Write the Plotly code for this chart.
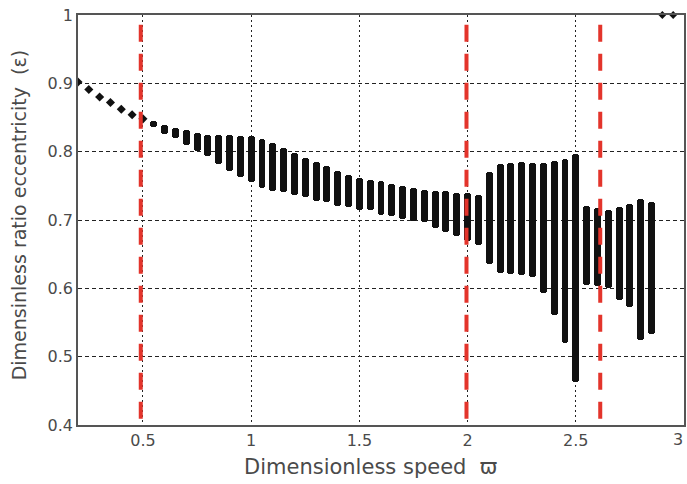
import plotly.graph_objects as go

# Dimensionless speed (columns of the bifurcation-type plot)
speed = [0.20, 0.25, 0.30, 0.35, 0.40, 0.45, 0.50, 0.55, 0.60, 0.65,
         0.70, 0.75, 0.80, 0.85, 0.90, 0.95, 1.00, 1.05, 1.10, 1.15,
         1.20, 1.25, 1.30, 1.35, 1.40, 1.45, 1.50, 1.55, 1.60, 1.65,
         1.70, 1.75, 1.80, 1.85, 1.90, 1.95, 2.00, 2.05, 2.10, 2.15,
         2.20, 2.25, 2.30, 2.35, 2.40, 2.45, 2.50, 2.55, 2.60, 2.65,
         2.70, 2.75, 2.80, 2.85]
# upper and lower eccentricity extent of each column
ecc_high = [0.902, 0.891, 0.880, 0.872, 0.862, 0.854, 0.848, 0.845, 0.839, 0.834,
            0.831, 0.827, 0.824, 0.824, 0.824, 0.823, 0.823, 0.819, 0.812, 0.805,
            0.798, 0.791, 0.785, 0.779, 0.772, 0.766, 0.762, 0.759, 0.757, 0.753,
            0.750, 0.747, 0.744, 0.743, 0.742, 0.739, 0.739, 0.737, 0.770, 0.782,
            0.784, 0.785, 0.784, 0.784, 0.787, 0.790, 0.796, 0.720, 0.718, 0.715,
            0.719, 0.724, 0.731, 0.727]
ecc_low = [0.902, 0.891, 0.880, 0.872, 0.862, 0.854, 0.848, 0.836, 0.826, 0.820,
           0.810, 0.801, 0.793, 0.782, 0.772, 0.763, 0.755, 0.747, 0.743, 0.741,
           0.736, 0.733, 0.728, 0.726, 0.721, 0.719, 0.715, 0.714, 0.707, 0.706,
           0.702, 0.698, 0.697, 0.689, 0.682, 0.676, 0.670, 0.663, 0.635, 0.622,
           0.621, 0.620, 0.617, 0.593, 0.561, 0.520, 0.463, 0.605, 0.604, 0.600,
           0.583, 0.573, 0.524, 0.533]
# points escaping to full eccentricity
speed_top = [2.90, 2.95]
ecc_top = [1.0, 1.0]
# critical speeds (red dashed lines)
critical = [0.49, 1.995, 2.613]

x_ticks = [0.5, 1, 1.5, 2, 2.5, 3]
x_tick_text = ["0.5", "1", "1.5", "2", "2.5", "3"]
y_ticks = [0.4, 0.5, 0.6, 0.7, 0.8, 0.9, 1.0]
y_tick_text = ["0.4", "0.5", "0.6", "0.7", "0.8", "0.9", "1"]

FONT = "DejaVu Sans, Liberation Sans, Arial, sans-serif"
INK = "#111111"
TXT = "#4a4a4a"

rng_x = [s for s, h, l in zip(speed, ecc_high, ecc_low) if h > l]
rng_lo = [l for h, l in zip(ecc_high, ecc_low) if h > l]
rng_len = [h - l for h, l in zip(ecc_high, ecc_low) if h > l]
pt_x = [s for s, h, l in zip(speed, ecc_high, ecc_low) if h == l]
pt_y = [h for h, l in zip(ecc_high, ecc_low) if h == l]

fig = go.Figure()
fig.add_trace(go.Bar(x=rng_x, y=rng_len, base=rng_lo, width=0.032,
                     marker=dict(color=INK, cornerradius="50%", line=dict(width=0)),
                     hoverinfo="skip", showlegend=False))
fig.add_trace(go.Scatter(x=pt_x, y=pt_y, mode="markers",
                         marker=dict(symbol="diamond", size=7, color=INK),
                         showlegend=False, hoverinfo="skip"))
fig.add_trace(go.Scatter(x=speed_top, y=ecc_top, mode="markers",
                         marker=dict(symbol="diamond", size=6, color=INK),
                         cliponaxis=False, showlegend=False, hoverinfo="skip"))

for c in critical:
    fig.add_shape(type="line", xref="x", yref="y", x0=c, x1=c, y0=0.409, y1=0.997,
                  line=dict(color="#e3342b", width=4, dash="17px,12px"), layer="above")

fig.update_layout(
    width=687, height=484,
    margin=dict(l=78, r=1, t=15, b=59),
    paper_bgcolor="white", plot_bgcolor="white",
    font=dict(family=FONT, color=TXT),
    showlegend=False, bargap=0,
    xaxis=dict(range=[0.2, 3.0], tickvals=x_ticks[:-1], ticktext=x_tick_text[:-1],
               showgrid=True, gridcolor="#222222", gridwidth=1, griddash="2px,3px",
               showline=True, linecolor="#555555", linewidth=1.5, mirror=True,
               ticks="", zeroline=False,
               tickfont=dict(size=16, family=FONT, color=TXT)),
    yaxis=dict(range=[0.4, 1.0], tickvals=y_ticks, ticktext=y_tick_text,
               showgrid=True, gridcolor="#222222", gridwidth=1, griddash="4px,3px",
               showline=True, linecolor="#555555", linewidth=1.5, mirror=True,
               ticks="", zeroline=False, ticklabelstandoff=0,
               tickfont=dict(size=16, family=FONT, color=TXT)),
    annotations=[
        dict(text=x_tick_text[-1], xref="x", yref="paper", x=x_ticks[-1], y=0,
             yshift=-14, xshift=1, xanchor="right", yanchor="middle", showarrow=False,
             font=dict(size=16, family=FONT, color=TXT)),
        dict(text="Dimensionless speed  \u03d6", xref="paper", yref="paper",
             x=0.482, y=-0.102, xanchor="center", yanchor="middle", showarrow=False,
             font=dict(size=21, family=FONT, color=TXT)),
        dict(text="Dimensinless ratio eccentricity  (\u03b5)", xref="paper", yref="paper",
             x=-0.097, y=0.512, xanchor="center", yanchor="middle", textangle=-90,
             showarrow=False, font=dict(size=19, family=FONT, color=TXT)),
    ],
)

fig.write_html("out.html", config={"displayModeBar": False},
               post_script="document.body.style.margin='0';document.body.style.overflow='hidden';")
